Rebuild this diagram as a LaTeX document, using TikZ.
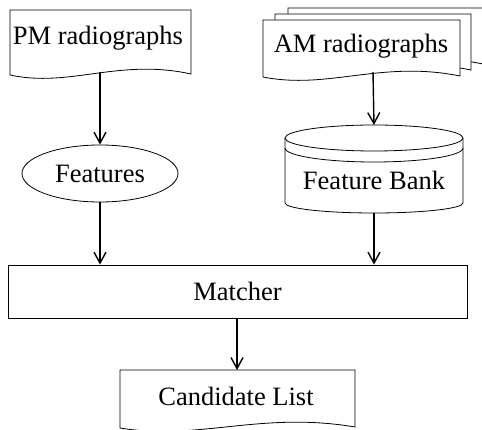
\documentclass[tikz,border=0pt]{standalone}
\usepackage{fontspec}
\setmainfont{Liberation Serif}
\usetikzlibrary{arrows.meta,shapes.geometric}

% document shape: left x, right x, top y, bottom y
\newcommand{\docshape}[4]{%
  \draw[outline, fill=white] (#1,#4) -- (#1,#3) -- (#2,#3) -- ({#2},{#4-1})
    .. controls ({#1+0.6*(#2-#1)},{#4-17}) and ({#1+0.33*(#2-#1)},{#4+13}) .. (#1,#4) -- cycle;}

\begin{document}
\begin{tikzpicture}[x=1pt, y=-1pt,
    outline/.style={line width=0.8pt},
    arr/.style={line width=1.4pt, -{Straight Barb[length=11pt,width=12pt,line width=1.4pt]}},
    lbl/.style={font=\fontsize{26.5}{30}\selectfont, inner sep=0pt}]
  \useasboundingbox (0,0) rectangle (482,430);

  % PM radiographs
  \docshape{10}{191}{10}{75}
  \node[lbl, anchor=base] (pm) at (98,45) {PM radiographs};
  \coordinate (pmout) at (100,72);

  % AM radiographs, stacked
  \docshape{288}{483}{8}{65}
  \docshape{275}{471}{14}{71}
  \docshape{263}{460}{20}{77}
  \node[lbl, anchor=base] (am) at (361,53) {AM radiographs};
  \coordinate (amout) at (373,72);

  % Features
  \node[ellipse, draw, outline, minimum width=156pt, minimum height=57pt, inner sep=0pt,
        font=\fontsize{26.5}{30}\selectfont] (feat) at (100,173.5) {Features};

  % Feature Bank cylinder
  \draw[outline, fill=white] (285,138) -- (285,203)
    arc[start angle=180, end angle=0, x radius=89, y radius=10] -- (463,138);
  \draw[outline, fill=white] (374,138) ellipse [x radius=89, y radius=13];
  \draw[outline] (285,148) arc[start angle=180, end angle=0, x radius=89, y radius=14];
  \node[lbl, anchor=base] (bank) at (374,190) {Feature Bank};
  \coordinate (bankin) at (374,125);
  \coordinate (bankout) at (374,213);

  % Matcher
  \node[draw, outline, minimum width=459pt, minimum height=53pt,
        font=\fontsize{26.5}{30}\selectfont] (match) at (237.5,291.5) {Matcher};

  % Candidate List
  \docshape{120}{355}{370}{428}
  \node[lbl, anchor=base] (cand) at (236,405) {Candidate List};
  \coordinate (candin) at (237,370);

  % Arrows
  \draw[arr] (pmout) -- (feat.north);
  \draw[arr] (amout) -- (bankin);
  \draw[arr] (feat.south) -- (feat.south |- match.north);
  \draw[arr] (bankout) -- (bankout |- match.north);
  \draw[arr] (match.south -| candin) -- (candin);
\end{tikzpicture}
\end{document}
